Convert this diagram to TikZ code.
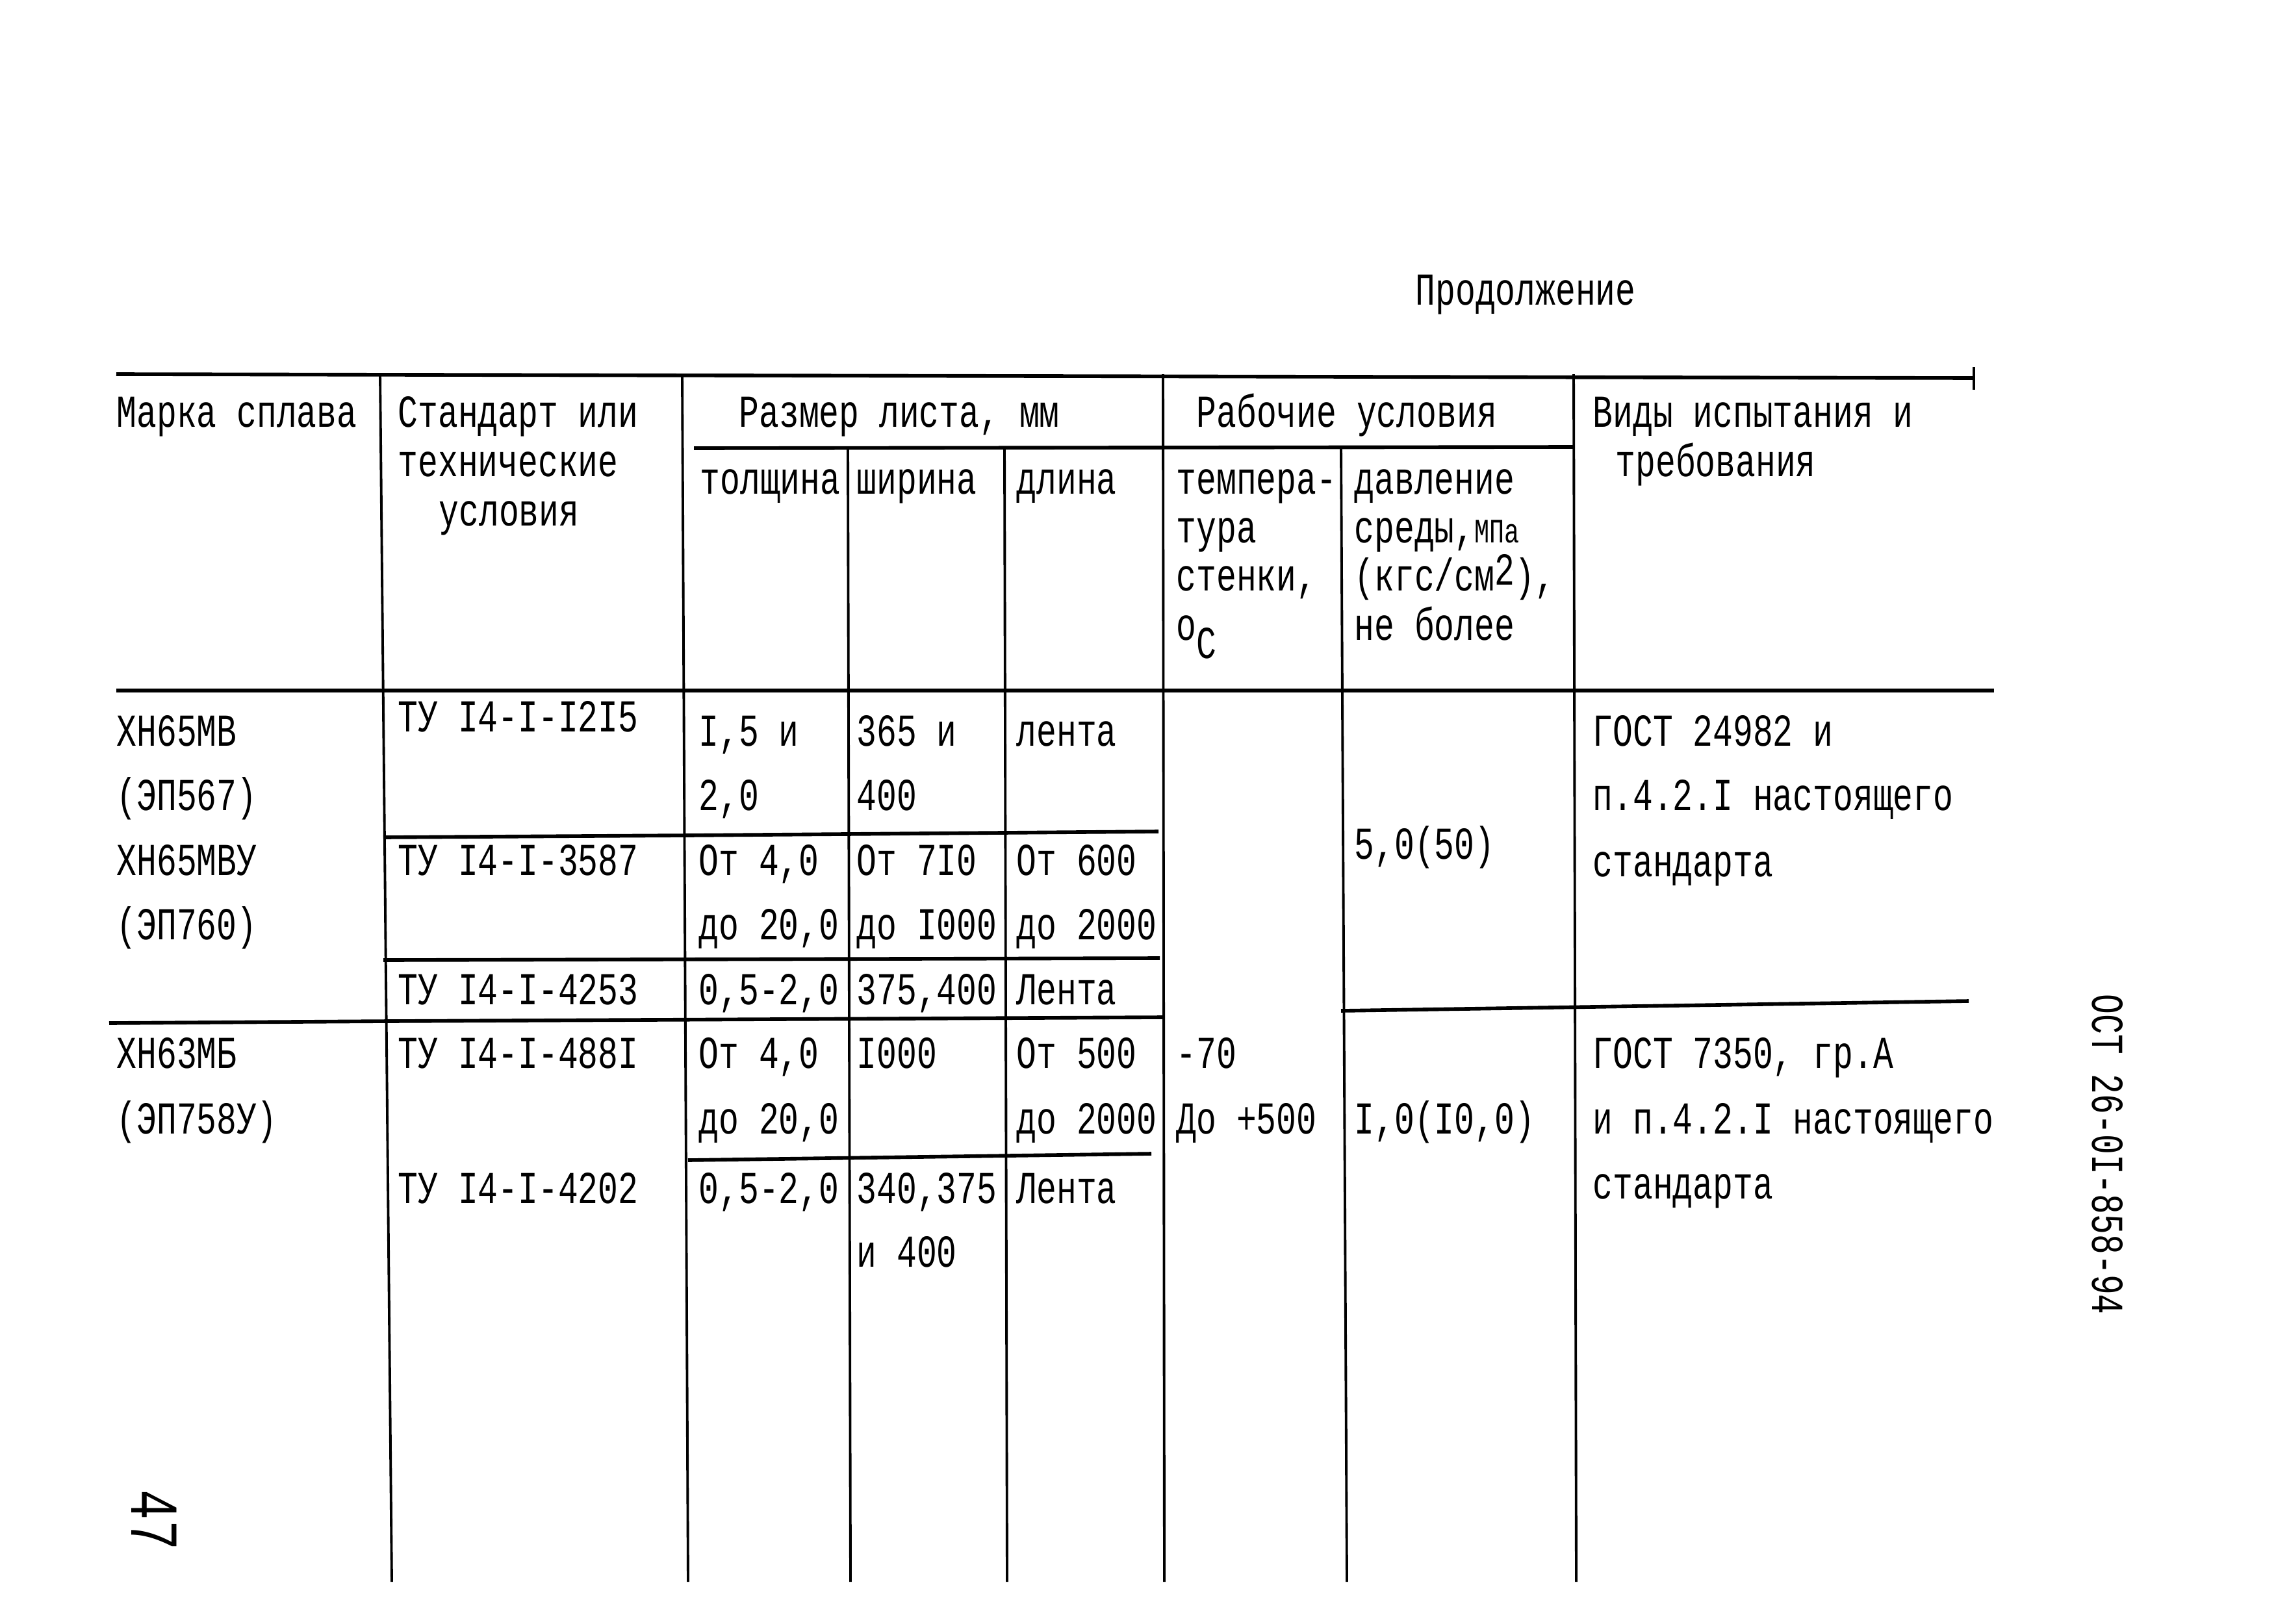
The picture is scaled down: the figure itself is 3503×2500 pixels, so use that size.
\documentclass[tikz,border=0pt]{standalone}
\usepackage{fontspec}
\newfontfamily\tyfont[FakeStretch=0.73]{Liberation Mono}
\usepackage{tikz}

\begin{document}
\begin{tikzpicture}[x = 0.01cm, y = -0.01cm,
  txt/.style = {font = \tyfont\fontsize{20}{24}\selectfont, anchor = base west, inner sep = 0pt},
  hrule/.style = {line width = 1.6pt},
  vrule/.style = {line width = 1.1pt}]
\useasboundingbox (0,0) rectangle (3503,2500);

% rules of the table
\draw[hrule] (179,576) -- (3038,582);
\draw[vrule] (3038,565) -- (3038,600);
\draw[hrule] (1068,690) -- (2422,688);
\draw[hrule] (179,1063) -- (3069,1063);
\draw[hrule] (590,1289) -- (1059,1286) -- (1783,1280);
\draw[hrule] (590,1478) -- (1785,1475);
\draw[hrule] (168,1575) -- (598,1572) -- (1790,1566);
\draw[hrule] (2064,1556) -- (3030,1541);
\draw[hrule] (1059,1786) -- (1772,1776);

\draw[vrule] (585,576) -- (603,2435);
\draw[vrule] (1050,576) -- (1059,2435);
\draw[vrule] (1305,690) -- (1309,2435);
\draw[vrule] (1546,690) -- (1550,2435);
\draw[vrule] (1790,576) -- (1792,2435);
\draw[vrule] (2064,690) -- (2073,2435);
\draw[vrule] (2422,576) -- (2426,2435);

% heading
\node[txt] (cont) at (2178,469) {Продолжение};
\node[txt] (h1) at (179,657) {Марка сплава};
\node[txt] (h2a) at (612,657) {Стандарт или};
\node[txt] (h2b) at (612,733) {технические};
\node[txt] (h2c) at (675,809) {условия};
\node[txt] (h3) at (1137,657) {Размер листа, мм};
\node[txt] (h3a) at (1077,760) {толщина};
\node[txt] (h3b) at (1318,760) {ширина};
\node[txt] (h3c) at (1564,760) {длина};
\node[txt] (h4) at (1841,657) {Рабочие условия};
\node[txt] (h4a) at (1810,760) {темпера-};
\node[txt] (h4b) at (1810,835) {тура};
\node[txt] (h4c) at (1810,909) {стенки,};
\node[txt] (h4d) at (1810,985) {o\raisebox{-8pt}{C}};
\node[txt] (h4e) at (2084,760) {давление};
\node[txt] (h4f) at (2084,835) {среды,{\fontsize{15}{15}\selectfont МПа}};
\node[txt] (h4g) at (2084,909) {(кгс/см\raisebox{2.5pt}{2}),};
\node[txt] (h4h) at (2084,985) {не более};
\node[txt] (h5a) at (2451,657) {Виды испытания и};
\node[txt] (h5b) at (2486,733) {требования};

% alloys
\node[txt] (m1) at (179,1148) {ХН65МВ};
\node[txt] (m2) at (179,1247) {(ЭП567)};
\node[txt] (m3) at (179,1347) {ХН65МВУ};
\node[txt] (m4) at (179,1446) {(ЭП760)};
\node[txt] (m5) at (179,1644) {ХН63МБ};
\node[txt] (m6) at (179,1745) {(ЭП758У)};

% standards
\node[txt] (tu1) at (612,1126) {ТУ I4-I-I2I5};
\node[txt] (tu2) at (612,1347) {ТУ I4-I-3587};
\node[txt] (tu3) at (612,1546) {ТУ I4-I-4253};
\node[txt] (tu4) at (612,1644) {ТУ I4-I-488I};
\node[txt] (tu5) at (612,1852) {ТУ I4-I-4202};

% sheet size
\node[txt] (t1) at (1075,1148) {I,5 и};
\node[txt] (t2) at (1075,1247) {2,0};
\node[txt] (t3) at (1075,1347) {От 4,0};
\node[txt] (t4) at (1075,1446) {до 20,0};
\node[txt] (t5) at (1075,1546) {0,5-2,0};
\node[txt] (t6) at (1075,1644) {От 4,0};
\node[txt] (t7) at (1075,1745) {до 20,0};
\node[txt] (t8) at (1075,1852) {0,5-2,0};

\node[txt] (w1) at (1318,1148) {365 и};
\node[txt] (w2) at (1318,1247) {400};
\node[txt] (w3) at (1318,1347) {От 7I0};
\node[txt] (w4) at (1318,1446) {до I000};
\node[txt] (w5) at (1318,1546) {375,400};
\node[txt] (w6) at (1318,1644) {I000};
\node[txt] (w7) at (1318,1852) {340,375};
\node[txt] (w8) at (1318,1950) {и 400};

\node[txt] (d1) at (1564,1148) {лента};
\node[txt] (d2) at (1564,1347) {От 600};
\node[txt] (d3) at (1564,1446) {до 2000};
\node[txt] (d4) at (1564,1546) {Лента};
\node[txt] (d5) at (1564,1644) {От 500};
\node[txt] (d6) at (1564,1745) {до 2000};
\node[txt] (d7) at (1564,1852) {Лента};

% working conditions
\node[txt] (temp1) at (1810,1644) {-70};
\node[txt] (temp2) at (1810,1745) {До +500};
\node[txt] (p1) at (2084,1322) {5,0(50)};
\node[txt] (p2) at (2084,1745) {I,0(I0,0)};

% tests
\node[txt] (v1) at (2451,1148) {ГОСТ 24982 и};
\node[txt] (v2) at (2451,1247) {п.4.2.I настоящего};
\node[txt] (v3) at (2451,1349) {стандарта};
\node[txt] (v4) at (2451,1644) {ГОСТ 7350, гр.А};
\node[txt] (v5) at (2451,1745) {и п.4.2.I настоящего};
\node[txt] (v6) at (2451,1845) {стандарта};

% margins
\node[txt, anchor = west, rotate = -90] (oct) at (3244,1530) {ОСТ 26-0I-858-94};
\node[txt, anchor = center, rotate = -90, font = \tyfont\fontsize{30}{30}\selectfont] (pg) at (237,2340) {47};
\end{tikzpicture}
\end{document}
